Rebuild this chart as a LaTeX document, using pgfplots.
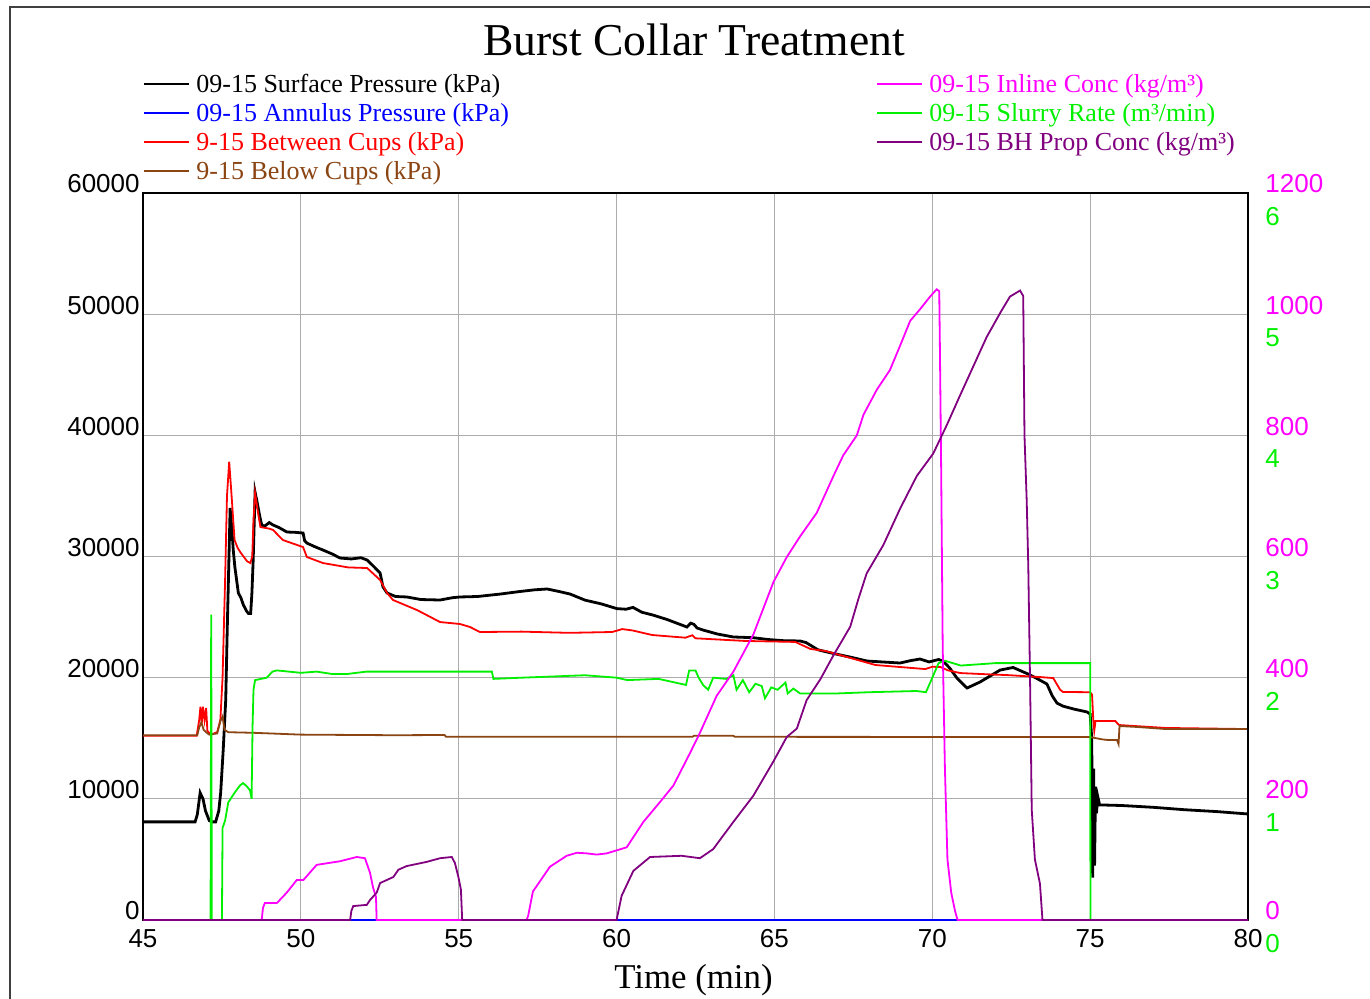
\documentclass[border=0pt]{standalone}
\usepackage{fontspec}
\setmainfont{Liberation Serif}
\newfontfamily\sansf{Liberation Sans}
\usepackage{pgfplots}
\pgfplotsset{compat=1.18}
\definecolor{mybrown}{RGB}{139,69,19}
\definecolor{mypurple}{RGB}{128,0,128}
\definecolor{mygreen}{RGB}{0,240,0}
\definecolor{mymag}{RGB}{255,0,255}
\definecolor{myblue}{RGB}{0,0,255}
\definecolor{myred}{RGB}{255,0,0}
\pgfplotsset{
  mylegend/.style={
    legend style={draw=none, fill=none, inner sep=0pt, outer sep=0pt,
      font=\fontsize{13}{15}\selectfont, row sep=2.5pt, column sep=3.2pt,
      nodes={inner sep=0pt, text height=9pt, text depth=3pt}},
    legend cell align=left,
    legend image code/.code={\draw[##1, line width=1pt] (0pt,1.0pt) -- (22.5pt,1.0pt);},
  },
  common/.style={
    at={(71.5pt,39pt)}, anchor=south west,
    scale only axis, width=552.5pt, height=363.5pt,
    xmin=45, xmax=80,
    major tick length=0pt,
    /pgf/number format/assume math mode=true,
    /pgf/number format/1000 sep={},
    scaled y ticks=false,
    tick label style={font=\sansf\fontsize{13}{13}\selectfont},
  }
}
\begin{document}
\begin{tikzpicture}
\useasboundingbox (0,0) rectangle (685pt,499pt);
\fill[white] (0,0) rectangle (685pt,499pt);
\draw[line width=1pt, black!75] (5pt,-1pt) -- (5pt,495.5pt) -- (686pt,495.5pt);
\node[anchor=base, font=\fontsize{22.8}{25}\selectfont] at (347pt,471pt) {Burst Collar Treatment};
\node[anchor=base, font=\fontsize{17.4}{19}\selectfont] at (346.75pt,5pt) {Time (min)};

% ---------- pressure axis (left) ----------
\begin{axis}[common, mylegend,
  ymin=0, ymax=60000,
  xtick={45,50,...,80}, ytick={0,10000,...,60000},
  grid=major, grid style={gray!65, line width=0.6pt},
  axis line style={line width=1pt},
  xticklabel style={anchor=north, inner sep=0pt, yshift=-4.5pt},
  yticklabel style={anchor=east, inner sep=0pt, xshift=-1.5pt, yshift=4.5pt},
  legend style={at={(axis description cs:0,1)}, anchor=north west, xshift=0pt, yshift=59.35pt},
]
\addplot[black, line width=1.4pt] table {
45.00 8100
46.65 8100
46.72 8700
46.81 10500
46.90 10000
46.98 9000
47.10 8200
47.19 8100
47.30 8100
47.40 9000
47.46 10500
47.54 14000
47.62 18150
47.67 24180
47.76 34000
47.81 32430
47.86 30500
47.91 29130
48.02 26990
48.10 26600
48.18 26000
48.28 25500
48.34 25300
48.41 25300
48.45 27000
48.49 29710
48.55 35320
48.62 34410
48.70 33300
48.76 32600
48.85 32500
49.00 32800
49.12 32600
49.30 32400
49.56 32020
49.80 32000
50.07 31940
50.12 31300
50.19 31110
50.45 30800
50.70 30535
51.00 30200
51.24 29875
51.60 29800
51.90 29900
52.10 29710
52.30 29200
52.51 28640
52.60 27500
52.73 26990
53.00 26700
53.36 26660
53.80 26450
54.41 26410
54.80 26600
55.04 26660
55.60 26700
56.31 26900
56.90 27100
57.40 27250
57.80 27320
58.20 27100
58.53 26900
59.00 26400
59.50 26100
60.01 25700
60.30 25650
60.52 25800
60.80 25400
61.15 25170
61.60 24800
62.23 24180
62.35 24500
62.45 24400
62.55 24100
62.74 23930
63.20 23600
63.69 23360
64.32 23300
64.80 23150
65.30 23050
65.81 23030
66.00 22900
66.38 22300
66.86 22000
67.40 21700
67.93 21375
68.40 21300
68.98 21210
69.30 21400
69.61 21540
69.90 21300
70.20 21500
70.34 21375
70.55 20800
70.78 19970
71.10 19145
71.51 19640
72.15 20630
72.56 20840
73.00 20340
73.30 19950
73.63 19480
73.80 18500
73.95 17900
74.14 17650
74.50 17400
74.90 17170
75.00 17000
75.05 15000
75.08 3500
75.11 12500
75.14 4500
75.17 11000
75.20 8800
75.24 10200
75.30 9500
76.00 9450
77.00 9300
78.00 9100
79.00 8950
80.00 8750
};
\addlegendentry{09-15 Surface Pressure (kPa)}
\addplot[myblue, line width=1pt] table {
45 0
80 0
};
\addlegendentry[text=myblue]{09-15 Annulus Pressure (kPa)}
\addplot[myred, line width=0.9pt] table {
45.00 15200
46.70 15200
46.78 16500
46.82 17600
46.86 16200
46.90 17600
46.95 16500
47.00 17500
47.04 15600
47.15 15300
47.35 15500
47.45 16500
47.52 20000
47.60 28000
47.66 35000
47.73 37820
47.80 35240
47.90 31360
48.00 30700
48.10 30290
48.30 29600
48.40 29460
48.46 30000
48.50 33000
48.55 35240
48.65 33500
48.72 32430
49.00 32300
49.12 32190
49.43 31360
50.07 30780
50.19 29960
50.70 29460
51.50 29100
52.10 29050
52.51 28060
52.73 26990
52.92 26410
53.68 25580
54.41 24590
55.04 24430
55.36 24180
55.67 23770
57.00 23800
58.50 23700
59.86 23770
60.18 24010
60.50 23900
61.13 23520
62.18 23300
62.40 23500
62.50 23250
64.08 23030
65.66 22950
66.14 22370
66.62 22200
68.20 21045
69.78 20710
70.00 20900
70.26 20880
70.50 20600
70.89 20380
72.00 20250
72.34 20220
73.41 20050
73.83 19970
74.05 19000
74.14 18820
75.00 18800
75.06 18600
75.10 16500
75.13 15620
75.17 16420
75.80 16420
75.86 16230
75.92 16090
77.40 15850
80.00 15760
};
\addlegendentry[text=myred]{9-15 Between Cups (kPa)}
\addplot[mybrown, line width=0.9pt] table {
45.00 15250
46.72 15250
46.78 15900
46.85 16300
46.92 15700
47.00 15500
47.10 15300
47.35 15400
47.45 16400
47.52 16800
47.58 15700
47.70 15500
48.50 15450
49.00 15400
50.00 15300
53.00 15250
54.55 15270
54.60 15120
62.40 15120
62.45 15200
63.70 15200
63.75 15120
75.00 15100
75.10 15050
75.40 14900
75.60 14850
75.85 14850
75.90 14525
75.93 16010
76.50 15930
77.40 15760
80.00 15760
};
\addlegendentry[text=mybrown]{9-15 Below Cups (kPa)}
\end{axis}

% ---------- slurry rate axis (green labels) ----------
\begin{axis}[common,
  ymin=0, ymax=6, ytick={0,1,...,6},
  axis x line=none, axis y line*=right,
  axis line style={line width=1pt},
  yticklabel style={text=mygreen, anchor=west, inner sep=0pt, xshift=8.5pt, yshift=-11.8pt},
]
\addplot[mygreen, line width=0.9pt] table {
45.00 0
47.14 0
47.16 2.52
47.18 0
47.50 0
47.52 0.76
47.60 0.82
47.70 0.97
47.90 1.05
48.07 1.11
48.17 1.13
48.30 1.10
48.39 1.07
48.44 1.00
48.47 1.60
48.50 1.90
48.55 1.98
48.92 2.00
49.10 2.05
49.24 2.06
50.00 2.04
50.50 2.05
51.00 2.03
51.45 2.03
52.08 2.05
53.00 2.05
54.41 2.05
55.50 2.05
56.05 2.05
56.10 1.99
57.00 2.00
58.00 2.01
59.00 2.02
60.00 2.00
60.34 1.98
61.33 1.99
62.20 1.94
62.30 2.06
62.50 2.06
62.60 2.00
62.74 1.94
62.90 1.90
63.06 2.00
63.47 1.99
63.70 2.02
63.80 1.90
64.00 1.98
64.20 1.88
64.40 1.95
64.60 1.93
64.70 1.83
64.90 1.92
65.10 1.90
65.35 1.96
65.42 1.87
65.60 1.91
65.81 1.87
66.45 1.87
67.00 1.87
68.00 1.88
69.50 1.89
69.80 1.88
70.00 2.00
70.20 2.12
70.40 2.14
70.90 2.10
72.00 2.12
73.00 2.12
74.00 2.12
75.00 2.12
75.01 0
80.00 0
};
\end{axis}

% ---------- concentration axis (magenta labels) ----------
\begin{axis}[common, mylegend,
  ymin=0, ymax=1200, ytick={0,200,...,1200},
  axis x line=none, axis y line*=right,
  axis line style={line width=1pt},
  yticklabel style={text=mymag, anchor=west, inner sep=0pt, xshift=8.5pt, yshift=4.5pt},
  legend style={at={(axis description cs:0.6652,1)}, anchor=north west, xshift=-1pt, yshift=59.35pt},
]
\addplot[mymag, line width=0.9pt] table {
45.00 0
48.76 0
48.80 20
48.86 28
49.24 28
49.55 45
49.87 66
50.08 66
50.50 91
51.24 97
51.77 104
52.03 102
52.19 78
52.29 53
52.38 38
52.40 0
57.15 0
57.20 7
57.35 47
57.89 88
58.42 106
58.74 111
59.05 110
59.37 108
59.69 110
60.32 120
60.85 162
61.38 195
61.80 222
62.33 276
62.64 309
63.17 370
63.70 410
64.33 471
64.97 558
65.39 599
65.81 633
66.34 672
66.87 733
67.18 767
67.61 800
67.82 834
68.24 875
68.66 908
68.98 948
69.30 989
69.61 1008
69.93 1029
70.14 1041
70.22 1038
70.24 950
70.28 750
70.33 450
70.40 250
70.48 100
70.60 45
70.72 15
70.80 0
80.00 0
};
\addlegendentry[text=mymag]{09-15 Inline Conc (kg/m³)}
\addlegendimage{mygreen, line width=0.9pt}
\addlegendentry[text=mygreen]{09-15 Slurry Rate (m³/min)}
\addplot[mypurple, line width=0.9pt] table {
45.00 0
51.56 0
51.60 15
51.66 23
52.09 25
52.19 33
52.40 45
52.51 61
52.93 71
53.09 83
53.35 89
53.99 96
54.41 102
54.78 104
54.88 94
54.99 71
55.07 50
55.11 0
60.00 0
60.16 40
60.53 81
61.06 104
62.06 106
62.64 102
63.06 117
63.70 162
64.33 205
64.97 262
65.39 302
65.71 316
66.02 363
66.45 397
66.87 437
67.40 484
67.66 530
67.92 572
68.45 619
68.98 679
69.51 733
70.03 770
70.46 817
70.88 866
71.30 914
71.72 962
72.15 1002
72.46 1029
72.78 1039
72.88 1030
72.92 800
72.99 693
73.04 585
73.10 383
73.15 182
73.25 100
73.41 60
73.49 0
80.00 0
};
\addlegendentry[text=mypurple]{09-15 BH Prop Conc (kg/m³)}
\end{axis}
\end{tikzpicture}
\end{document}
